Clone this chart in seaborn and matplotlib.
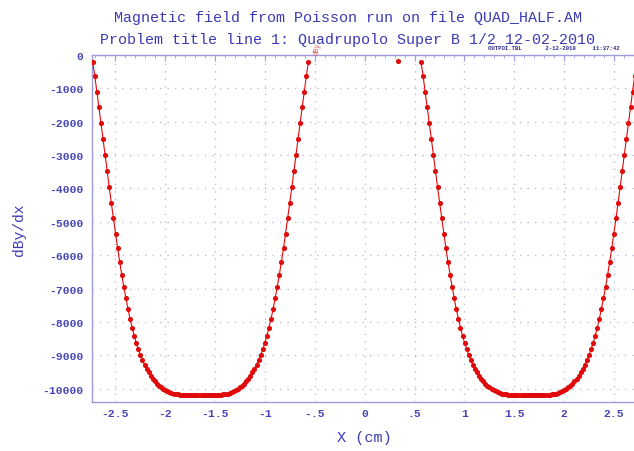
import matplotlib
matplotlib.use("Agg")
import matplotlib.pyplot as plt
import numpy as np
import pandas as pd
import seaborn as sns
from matplotlib.ticker import FixedLocator, MultipleLocator

# ---------------- text ----------------
title_line1 = "Magnetic field from Poisson run on file QUAD_HALF.AM"
title_line2 = "Problem title line 1: Quadrupolo Super B 1/2 12-02-2010"
stamp_text = "OUTPOI.TBL       2-12-2010     11:37:42"
x_label = "X (cm)"
y_label = "dBy/dx"
curve_tag = "dBy"

# ---------------- data ----------------
x_left = [
    -2.728, -2.707, -2.686, -2.666, -2.645, -2.624, -2.603, -2.582, -2.562, -2.541,
    -2.520, -2.499, -2.478, -2.458, -2.437, -2.416, -2.395, -2.374, -2.354, -2.333,
    -2.312, -2.291, -2.270, -2.250, -2.229, -2.208, -2.187, -2.166, -2.146, -2.125,
    -2.104, -2.083, -2.062, -2.042, -2.021, -2.000, -1.979, -1.958, -1.938, -1.917,
    -1.896, -1.875, -1.854, -1.834, -1.813, -1.792, -1.771, -1.750, -1.730, -1.709,
    -1.688, -1.667, -1.646, -1.626, -1.605, -1.584, -1.563, -1.542, -1.522, -1.501,
    -1.480, -1.459, -1.438, -1.418, -1.397, -1.376, -1.355, -1.334, -1.314, -1.293,
    -1.272, -1.251, -1.230, -1.210, -1.189, -1.168, -1.147, -1.126, -1.106, -1.085,
    -1.064, -1.043, -1.022, -1.002, -0.981, -0.960, -0.939, -0.918, -0.898, -0.877,
    -0.856, -0.835, -0.814, -0.794, -0.773, -0.752, -0.731, -0.710, -0.690, -0.669,
    -0.648, -0.627, -0.606, -0.586, -0.565,
]
x_right = [
    0.565, 0.586, 0.606, 0.627, 0.648, 0.669, 0.690, 0.710, 0.731, 0.752,
    0.773, 0.794, 0.814, 0.835, 0.856, 0.877, 0.898, 0.918, 0.939, 0.960,
    0.981, 1.002, 1.022, 1.043, 1.064, 1.085, 1.106, 1.126, 1.147, 1.168,
    1.189, 1.210, 1.230, 1.251, 1.272, 1.293, 1.314, 1.334, 1.355, 1.376,
    1.397, 1.418, 1.438, 1.459, 1.480, 1.501, 1.522, 1.542, 1.563, 1.584,
    1.605, 1.626, 1.646, 1.667, 1.688, 1.709, 1.730, 1.750, 1.771, 1.792,
    1.813, 1.834, 1.854, 1.875, 1.896, 1.917, 1.938, 1.958, 1.979, 2.000,
    2.021, 2.042, 2.062, 2.083, 2.104, 2.125, 2.146, 2.166, 2.187, 2.208,
    2.229, 2.250, 2.270, 2.291, 2.312, 2.333, 2.354, 2.374, 2.395, 2.416,
    2.437, 2.458, 2.478, 2.499, 2.520, 2.541, 2.562, 2.582, 2.603, 2.624,
    2.645, 2.666, 2.686, 2.707, 2.728,
]
dbydx_branch = [
    -210, -640, -1100, -1570, -2050, -2530, -3010, -3490, -3970, -4440,
    -4900, -5350, -5780, -6190, -6580, -6950, -7290, -7610, -7900, -8170,
    -8410, -8630, -8820, -8990, -9140, -9280, -9400, -9510, -9610, -9700,
    -9780, -9850, -9910, -9960, -10010, -10050, -10080, -10110, -10130, -10150,
    -10160, -10170, -10180, -10185, -10190, -10190, -10190, -10190, -10190, -10190,
    -10190, -10190, -10190, -10190, -10190, -10190, -10190, -10190, -10190, -10190,
    -10190, -10185, -10180, -10170, -10160, -10150, -10130, -10110, -10080, -10050,
    -10010, -9960, -9910, -9850, -9780, -9700, -9610, -9510, -9400, -9280,
    -9140, -8990, -8820, -8630, -8410, -8170, -7900, -7610, -7290, -6950,
    -6580, -6190, -5780, -5350, -4900, -4440, -3970, -3490, -3010, -2530,
    -2050, -1570, -1100, -640, -210,
]
x_single = [0.334]
dbydx_single = [-190]

x_ticks = [-2.5, -2, -1.5, -1, -0.5, 0, 0.5, 1, 1.5, 2, 2.5]
x_tick_labels = ["-2.5", "-2", "-1.5", "-1", "-.5", "0", ".5", "1", "1.5", "2", "2.5"]
y_ticks = [0, -1000, -2000, -3000, -4000, -5000, -6000, -7000, -8000, -9000, -10000]
y_tick_labels = [str(v) for v in y_ticks]

# ---------------- styling ----------------
sns.set_style("white")
mono = ["Liberation Mono", "DejaVu Sans Mono"]
plt.rcParams["font.family"] = mono

text_blue = "#3b3bb4"
tick_blue = "#4646b8"
spine_blue = "#9c9cd8"
grid_blue = "#b4b4d6"
red = "#e00a0a"

W, H = 634, 452
fig = plt.figure(figsize=(W / 100, H / 100), dpi=100)
ax = fig.add_axes([92 / W, (H - 403) / H, (636 - 92) / W, (403 - 56) / H])

df = pd.concat([
    pd.DataFrame({"x": x_left, "dBy": dbydx_branch, "seg": "left"}),
    pd.DataFrame({"x": x_single, "dBy": dbydx_single, "seg": "mid"}),
    pd.DataFrame({"x": x_right, "dBy": dbydx_branch, "seg": "right"}),
], ignore_index=True)

sns.lineplot(data=df, x="x", y="dBy", units="seg", estimator=None,
             color=red, linewidth=0.8, marker="o", markersize=3.7,
             markeredgewidth=0, markerfacecolor=red, ax=ax, legend=False,
             zorder=3)

ax.set_xlim(-2.735, 2.721)
ax.set_ylim(-10400, 0)

ax.xaxis.set_major_locator(FixedLocator(x_ticks))
ax.set_xticklabels(x_tick_labels)
ax.yaxis.set_major_locator(FixedLocator(y_ticks))
ax.set_yticklabels(y_tick_labels)
ax.xaxis.set_minor_locator(MultipleLocator(0.1))

ax.grid(True, which="major", color=grid_blue, linestyle=(0, (1, 5)), linewidth=0.9)
for s in ax.spines.values():
    s.set_color(spine_blue)
    s.set_linewidth(1.0)

ax.tick_params(axis="both", which="major", direction="in", length=4, width=0.8,
               color=spine_blue, labelcolor=tick_blue, labelsize=8.2, pad=6)
ax.tick_params(axis="x", which="major", pad=4)
ax.tick_params(axis="x", which="both", top=True)
ax.tick_params(axis="x", which="minor", direction="in", length=2, width=0.6,
               color=spine_blue, bottom=False, top=True)
for lab in ax.get_xticklabels() + ax.get_yticklabels():
    lab.set_fontweight("bold")
    lab.set_family(mono)

ax.set_xlabel(x_label, color=text_blue, fontsize=11, labelpad=9)
ax.set_ylabel(y_label, color=text_blue, fontsize=10.5, labelpad=12)

fig.text(348 / W, 1 - 18 / H, title_line1, ha="center", va="center",
         color=text_blue, fontsize=10.8, family=mono)
fig.text(348 / W, 1 - 40 / H, title_line2, ha="center", va="center",
         color=text_blue, fontsize=10.8, family=mono)
fig.text(488 / W, 1 - 49 / H, stamp_text, ha="left", va="center",
         color="#2a2a90", fontsize=4.1, family=mono, fontweight="bold")
fig.text(317 / W, 1 - 49 / H, curve_tag, ha="center", va="center",
         color="#e05050", fontsize=5, rotation=80, family=mono)

fig.savefig("out.png", dpi=100)
